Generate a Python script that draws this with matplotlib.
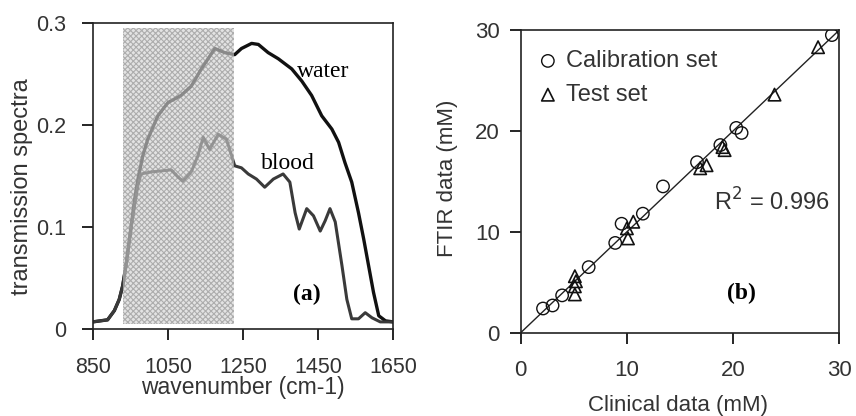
import matplotlib
matplotlib.use("Agg")
import matplotlib.pyplot as plt
from matplotlib.patches import Rectangle

plt.rcParams['font.family'] = ['Liberation Sans', 'DejaVu Sans']
plt.rcParams['hatch.linewidth'] = 0.8

# (a) spectres
water_x = [850, 889, 907, 920, 929, 938, 952, 961, 970, 983, 996, 1023, 1050, 1085,
           1112, 1139, 1175, 1201, 1228, 1246, 1273, 1291, 1317, 1344, 1380, 1407,
           1433, 1460, 1487, 1505, 1522, 1540, 1558, 1572, 1585, 1598, 1612, 1630, 1650]
water_y = [0.007, 0.009, 0.018, 0.029, 0.042, 0.062, 0.101, 0.127, 0.147, 0.170, 0.186,
           0.209, 0.222, 0.229, 0.238, 0.255, 0.275, 0.271, 0.269, 0.275, 0.280, 0.279,
           0.271, 0.265, 0.255, 0.243, 0.229, 0.209, 0.196, 0.183, 0.163, 0.144, 0.114,
           0.088, 0.062, 0.036, 0.013, 0.008, 0.007]

blood_x = [850, 889, 907, 920, 929, 938, 952, 961, 970, 978, 1005, 1032, 1059, 1077,
           1090, 1112, 1130, 1144, 1161, 1184, 1206, 1228, 1246, 1264, 1286, 1308, 1331,
           1357, 1375, 1389, 1400, 1420, 1438, 1456, 1469, 1482, 1496, 1514, 1527, 1540,
           1558, 1576, 1594, 1616, 1650]
blood_y = [0.007, 0.009, 0.018, 0.029, 0.042, 0.062, 0.100, 0.121, 0.141, 0.152, 0.154,
           0.155, 0.156, 0.149, 0.145, 0.154, 0.170, 0.188, 0.176, 0.191, 0.186, 0.160,
           0.158, 0.152, 0.147, 0.139, 0.147, 0.152, 0.144, 0.114, 0.098, 0.118, 0.111,
           0.096, 0.106, 0.118, 0.105, 0.062, 0.029, 0.010, 0.010, 0.016, 0.011, 0.007,
           0.007]

zone = (930, 1225)  # zone hachurée

# (b) calibration / test
calib_x = [2.1, 3.0, 3.9, 6.4, 8.9, 9.5, 11.5, 13.4, 16.6, 18.8, 20.3, 20.8, 29.3]
calib_y = [2.4, 2.7, 3.7, 6.5, 8.9, 10.8, 11.8, 14.5, 16.9, 18.6, 20.3, 19.8, 29.5]
test_x = [5.1, 5.1, 5.2, 5.1, 10.1, 10.0, 10.6, 16.9, 17.5, 19.2, 19.0, 23.9, 28.0]
test_y = [3.8, 4.6, 5.1, 5.6, 9.35, 10.35, 11.0, 16.3, 16.6, 18.1, 18.4, 23.6, 28.3]
r2 = 0.996

txt = '#333333'
fig = plt.figure(figsize=(8.56, 4.16), dpi=100)

ax1 = fig.add_axes([0.1086, 0.2091, 0.3505, 0.7356])
ax1.plot(water_x, water_y, color='#111111', lw=2.4, zorder=2)
ax1.plot(blood_x, blood_y, color='#3a3a3a', lw=2.2, zorder=2)
ax1.add_patch(Rectangle((zone[0], 0.005), zone[1] - zone[0], 0.29,
                        facecolor='#d2d2d2', edgecolor='#8c8c8c', hatch='xxxxxx',
                        lw=0, alpha=0.62, zorder=3))
ax1.set_xlim(850, 1650)
ax1.set_ylim(0, 0.3)
ax1.set_xticks([850, 1050, 1250, 1450, 1650])
ax1.set_yticks([0, 0.1, 0.2, 0.3])
ax1.set_yticklabels(['0', '0.1', '0.2', '0.3'])
ax1.tick_params(axis='x', direction='out', length=8, width=1.2, pad=12,
                labelsize=15.5, labelcolor=txt)
ax1.tick_params(axis='y', direction='out', length=8, width=1.2, pad=11,
                labelsize=15.5, labelcolor=txt)
ax1.set_xlabel('wavenumber (cm-1)', fontsize=16.5, color=txt)
ax1.set_ylabel('transmission spectra', fontsize=17, color=txt)
ax1.xaxis.set_label_coords(0.498, -0.154)
ax1.yaxis.set_label_coords(-0.20, 0.464)
ax1.text(1465, 0.252, 'water', family='Liberation Serif', fontsize=17, ha='center', va='center')
ax1.text(1370, 0.162, 'blood', family='Liberation Serif', fontsize=17, ha='center', va='center')
ax1.text(1420, 0.034, '(a)', family='Liberation Serif', fontsize=17, fontweight='bold',
         ha='center', va='center')

ax2 = fig.add_axes([0.6083, 0.2002, 0.3722, 0.7276])
ax2.plot([0, 30], [0, 30], color='#222222', lw=1.0, zorder=1)
ax2.scatter(calib_x, calib_y, s=80, marker='o', facecolors='none',
            edgecolors='#111111', linewidths=1.0, label='Calibration set', zorder=3)
ax2.scatter(test_x, test_y, s=80, marker='^', facecolors='none',
            edgecolors='#111111', linewidths=1.2, label='Test set', zorder=3)
ax2.set_xlim(0, 30)
ax2.set_ylim(0, 30)
ax2.set_xticks([0, 10, 20, 30])
ax2.set_yticks([0, 10, 20, 30])
ax2.tick_params(axis='x', direction='out', length=8, width=1.2, pad=12,
                labelsize=16, labelcolor=txt)
ax2.tick_params(axis='y', direction='out', length=8, width=1.2, pad=7,
                labelsize=16, labelcolor=txt)
ax2.set_xlabel('Clinical data (mM)', fontsize=16, color=txt)
ax2.set_ylabel('FTIR data (mM)', fontsize=16, color=txt)
ax2.xaxis.set_label_coords(0.494, -0.206)
ax2.yaxis.set_label_coords(-0.197, 0.511)
ax2.text(23.6, 12.95, 'R$^2$ = 0.996', fontsize=17, color=txt, ha='center', va='center')
ax2.text(20.8, 3.9, '(b)', family='Liberation Serif', fontsize=17, fontweight='bold',
         ha='center', va='center')
ax2.legend(loc='upper left', frameon=False, fontsize=17, handlelength=0.6,
           handletextpad=0.45, labelspacing=0.5, borderaxespad=0.45, labelcolor=txt)

for ax in (ax1, ax2):
    for sp in ax.spines.values():
        sp.set_linewidth(1.2)
        sp.set_color('#222222')

fig.savefig('out.png', dpi=100)
